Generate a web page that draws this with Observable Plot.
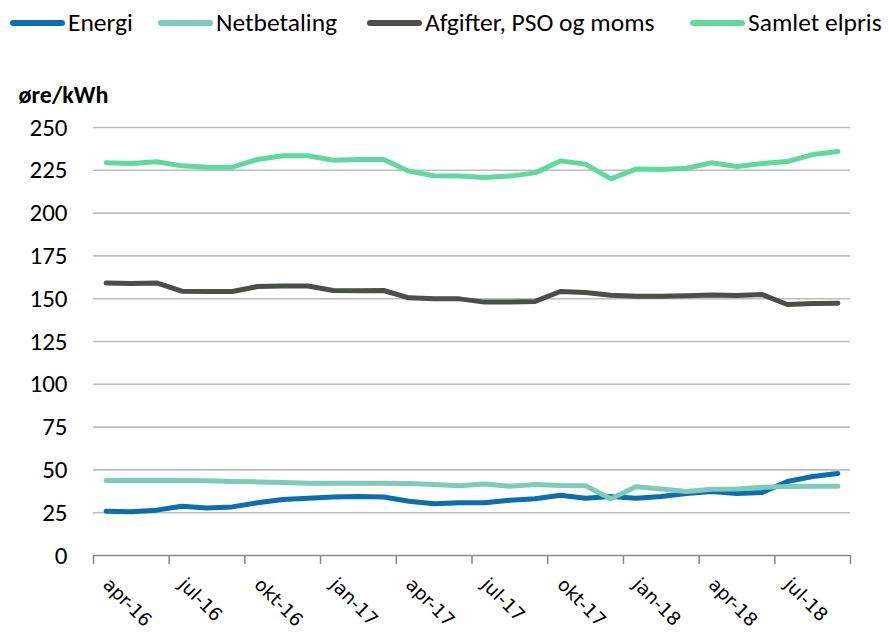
<!DOCTYPE html>
<html>
<head>
<meta charset="utf-8">
<script src="https://cdn.jsdelivr.net/npm/d3@7"></script>
<script src="https://cdn.jsdelivr.net/npm/@observablehq/plot@0.6"></script>
<style>
  body { margin: 0; background: #fff; }
  #legend { position: relative; height: 45px; font-family: Calibri, Carlito, Lato, sans-serif; font-size: 25.5px; color: #000; white-space: nowrap; }
  .item { position: absolute; top: 0; height: 45px; display: flex; align-items: center; }
  .sw { width: 55px; height: 6px; border-radius: 3px; margin-right: 3px; }
</style>
</head>
<body>
<div id="legend"></div>
<div id="chart"></div>
<script>
const seriesNames = ["Energi", "Netbetaling", "Afgifter, PSO og moms", "Samlet elpris"];
const seriesColors = ["#0b6eb0", "#7ccbbb", "#4a4f48", "#5edb9c"];

const months = ["apr-16","maj-16","jun-16","jul-16","aug-16","sep-16","okt-16","nov-16","dec-16",
  "jan-17","feb-17","mar-17","apr-17","maj-17","jun-17","jul-17","aug-17","sep-17","okt-17","nov-17","dec-17",
  "jan-18","feb-18","mar-18","apr-18","maj-18","jun-18","jul-18","aug-18","sep-18"];

const energi = [25.9,25.5,26.5,28.8,27.8,28.4,30.8,32.7,33.5,34.1,34.4,34.2,31.7,30.2,30.8,30.8,32.3,33.1,35.2,33.5,34.5,33.5,34.5,36.2,37.4,36.2,36.8,43.2,46.1,47.9];
const netbetaling = [43.8,43.8,43.8,43.8,43.6,43.2,43.0,42.6,42.2,42.2,42.2,42.2,42.0,41.5,40.7,41.7,40.5,41.5,40.9,40.7,33.1,40.1,38.9,37.4,38.7,38.9,39.9,40.3,40.5,40.5];
const afgifter = [159.1,158.9,159.2,154.4,154.2,154.2,157.1,157.4,157.4,154.8,154.6,154.8,150.5,149.9,149.9,148.0,148.0,148.4,154.2,153.6,152.0,151.5,151.5,151.7,152.2,151.9,152.4,146.6,147.2,147.4];
const samlet = [229.4,229.0,230.0,227.6,226.8,226.8,231.3,233.5,233.5,230.9,231.3,231.3,224.5,221.8,221.6,220.8,221.6,223.5,230.5,228.6,220.0,225.7,225.5,226.2,229.4,227.2,229.0,230.1,234.2,236.0];

const xTickLabels = ["apr-16","jul-16","okt-16","jan-17","apr-17","jul-17","okt-17","jan-18","apr-18","jul-18"];
const yTicks = [0,25,50,75,100,125,150,175,200,225,250];
const yLabel = "øre/kWh";

// legend
const legendLefts = [10, 158, 367, 690];
const legend = document.getElementById("legend");
seriesNames.forEach((n, k) => {
  const it = document.createElement("div"); it.className = "item"; it.style.left = legendLefts[k] + "px";
  const sw = document.createElement("div"); sw.className = "sw"; sw.style.background = seriesColors[k];
  const tx = document.createElement("span"); tx.textContent = n;
  it.appendChild(sw); it.appendChild(tx); legend.appendChild(it);
});

const allSeries = [energi, netbetaling, afgifter, samlet];
const rows = [];
allSeries.forEach((arr, k) => arr.forEach((v, i) => rows.push({i, v, s: seriesNames[k]})));

const labelRows = xTickLabels.map(l => ({i: months.indexOf(l), label: l}));
const boundaries = d3.range(0, months.length + 1).filter(b => b % 3 === 0).map(b => b - 0.5);

const chart = Plot.plot({
  width: 889, height: 589,
  marginTop: 82, marginBottom: 79, marginLeft: 93, marginRight: 39,
  style: {color: "#000", background: "#fff"},
  x: {domain: [-0.5, months.length - 0.5], axis: null},
  y: {domain: [0, 250], axis: null},
  color: {domain: seriesNames, range: seriesColors},
  marks: [
    Plot.gridY(yTicks.filter(t => t > 0), {stroke: "#bdbdbd", strokeOpacity: 1, strokeWidth: 1.6}),
    Plot.ruleY([0], {stroke: "#8c8c8c", strokeWidth: 1.6}),
    Plot.axisX({ticks: boundaries, tickFormat: () => "", tickSize: 9, stroke: "#8c8c8c", strokeWidth: 1.6, label: null}),
    Plot.axisY({ticks: yTicks, tickSize: 0, tickPadding: 26, fontSize: 25, fontFamily: "Calibri, Carlito, Lato, sans-serif", label: null}),
    Plot.text(labelRows, {x: "i", text: "label", frameAnchor: "bottom", rotate: 45, textAnchor: "start", lineAnchor: "middle", dy: 26, dx: 0, fontSize: 18.5, fontFamily: "DejaVu Sans", fill: "#000"}),
    Plot.text([yLabel], {frameAnchor: "top-left", textAnchor: "start", lineAnchor: "middle", dx: -75, dy: -32, fontSize: 24, fontWeight: "bold", fontFamily: "Calibri, Carlito, Lato, sans-serif", fill: "#000"}),
    Plot.line(rows, {x: "i", y: "v", z: "s", stroke: "s", strokeWidth: 5, strokeLinecap: "round", strokeLinejoin: "round"})
  ]
});
document.getElementById("chart").appendChild(chart);
</script>
</body>
</html>
